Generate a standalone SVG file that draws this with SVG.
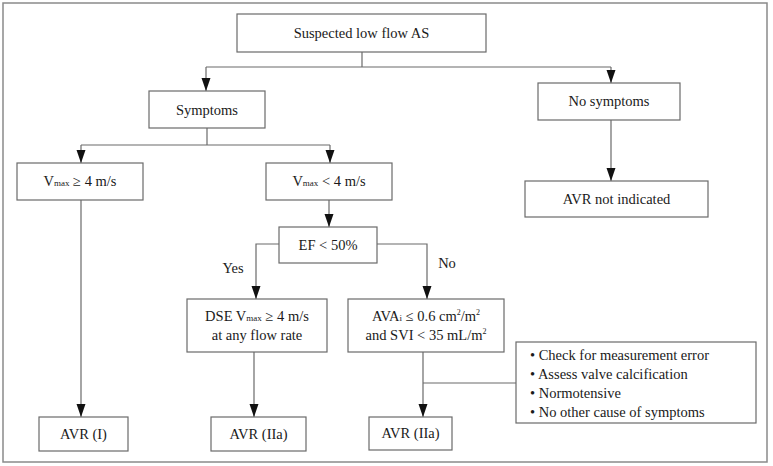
<svg xmlns="http://www.w3.org/2000/svg" width="773" height="466" viewBox="0 0 773 466">
<defs>
<style>
.box{fill:#fff;stroke:#6a6a6a;stroke-width:1.2}
.ln{fill:none;stroke:#6a6a6a;stroke-width:1.2}
.t{font-family:"Liberation Serif","Times New Roman",serif;font-size:14.5px;fill:#1a1a1a;text-anchor:middle}
.tl{font-family:"Liberation Serif","Times New Roman",serif;font-size:14.5px;fill:#1a1a1a}
.sm{font-size:9px}
.sp{font-size:8px}
</style>
<marker id="ah" markerUnits="userSpaceOnUse" markerWidth="14" markerHeight="10" refX="13" refY="4.5" orient="auto">
<path d="M0,0 L13,4.5 L0,9 z" fill="#111"/>
</marker>
</defs>
<rect x="3" y="3" width="764" height="459" fill="#fff" stroke="#8a8a8a" stroke-width="1.5"/>
<g id="connectors">
<path class="ln" d="M362,52 V67"/>
<path class="ln" d="M206,67 H611" />
<path class="ln" d="M206,67 V91" marker-end="url(#ah)"/>
<path class="ln" d="M611,67 V83" marker-end="url(#ah)"/>
<path class="ln" d="M207,128 V145"/>
<path class="ln" d="M81,145 H330"/>
<path class="ln" d="M81,145 V163" marker-end="url(#ah)"/>
<path class="ln" d="M330,145 V163" marker-end="url(#ah)"/>
<path class="ln" d="M611,120 V181" marker-end="url(#ah)"/>
<path class="ln" d="M329,200 V227" marker-end="url(#ah)"/>
<path class="ln" d="M279,244 H256 V299" marker-end="url(#ah)"/>
<path class="ln" d="M377,244 H427 V299" marker-end="url(#ah)"/>
<path class="ln" d="M81,200 V417" marker-end="url(#ah)"/>
<path class="ln" d="M254,352 V417" marker-end="url(#ah)"/>
<path class="ln" d="M423,352 V417" marker-end="url(#ah)"/>
<path class="ln" d="M423,383 H516"/>
</g>
<g id="n-start"><rect class="box" x="237" y="14" width="249" height="38"/><text class="t" x="361.5" y="38">Suspected low flow AS</text></g>
<g id="n-symptoms"><rect class="box" x="149" y="91" width="116" height="37"/><text class="t" x="207" y="115">Symptoms</text></g>
<g id="n-nosymptoms"><rect class="box" x="538" y="83" width="142" height="37"/><text class="t" x="609" y="106">No symptoms</text></g>
<g id="n-avr-not"><rect class="box" x="525" y="181" width="183" height="36"/><text class="t" x="616.5" y="204">AVR not indicated</text></g>
<g id="n-vmax-ge"><rect class="box" x="17" y="163" width="126" height="37"/><text class="t" x="80" y="186">V<tspan class="sm">max</tspan> ≥ 4 m/s</text></g>
<g id="n-vmax-lt"><rect class="box" x="266" y="163" width="126" height="37"/><text class="t" x="329" y="186">V<tspan class="sm">max</tspan> &lt; 4 m/s</text></g>
<g id="n-ef"><rect class="box" x="279" y="227" width="98" height="36"/><text class="t" x="328" y="250">EF &lt; 50%</text></g>
<text class="t" x="233" y="273">Yes</text>
<text class="t" x="447" y="268">No</text>
<g id="n-dse"><rect class="box" x="187" y="299" width="140" height="53"/><text class="t" x="257" y="321">DSE V<tspan class="sm">max</tspan> ≥ 4 m/s</text><text class="t" x="257" y="340">at any flow rate</text></g>
<g id="n-ava"><rect class="box" x="348" y="299" width="156" height="53"/><text class="t" x="426" y="321">AVA<tspan class="sm">i</tspan> ≤ 0.6 cm<tspan class="sp" dy="-6">2</tspan><tspan dy="6">/m</tspan><tspan class="sp" dy="-6">2</tspan></text><text class="t" x="426" y="340">and SVI &lt; 35 mL/m<tspan class="sp" dy="-6">2</tspan></text></g>
<g id="n-note"><rect class="box" x="516" y="342" width="240" height="81"/>
<text class="tl" x="530" y="360">• Check for measurement error</text>
<text class="tl" x="530" y="379">• Assess valve calcification</text>
<text class="tl" x="530" y="398">• Normotensive</text>
<text class="tl" x="530" y="417">• No other cause of symptoms</text></g>
<g id="n-avr1"><rect class="box" x="39" y="417" width="89" height="34"/><text class="t" x="83.5" y="439">AVR (I)</text></g>
<g id="n-avr2"><rect class="box" x="211" y="417" width="95" height="34"/><text class="t" x="258.5" y="439">AVR (IIa)</text></g>
<g id="n-avr3"><rect class="box" x="369" y="417" width="83" height="33"/><text class="t" x="410.5" y="438">AVR (IIa)</text></g>
</svg>
